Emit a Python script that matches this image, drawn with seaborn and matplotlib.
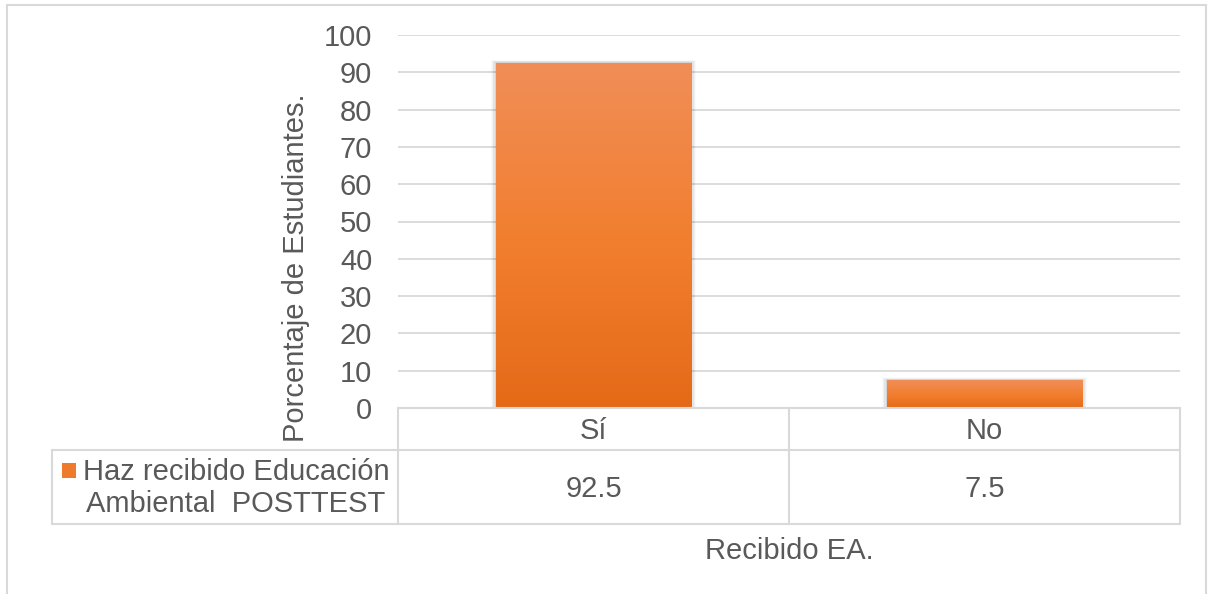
import numpy as np
import pandas as pd
import matplotlib
matplotlib.use("Agg")
import matplotlib.pyplot as plt
from matplotlib.colors import LinearSegmentedColormap
from matplotlib.patches import Rectangle
from matplotlib.lines import Line2D
import seaborn as sns

# Data
categories = ["Sí", "No"]
values = [92.5, 7.5]
series_name = "Haz recibido Educación\nAmbiental  POSTTEST"
y_ticks = [0, 10, 20, 30, 40, 50, 60, 70, 80, 90, 100]
x_title = "Recibido EA."
y_title = "Porcentaje de Estudiantes."

sns.set_theme(style="white")
plt.rcParams["font.family"] = ["Liberation Sans", "DejaVu Sans"]

TEXT = "#595959"
GRID = "#D9D9D9"
FS = 21

W, H = 1209, 594
fig = plt.figure(figsize=(W / 100, H / 100), dpi=100)

# axes box in pixels: x 398..1180, y 35..408
L, R, T, B = 398, 1180, 35, 408
ax = fig.add_axes([L / W, 1 - B / H, (R - L) / W, (B - T) / H])

df = pd.DataFrame({"cat": categories, "val": values})
sns.barplot(data=df, x="cat", y="val", ax=ax, width=0.5, color="#F07F2E",
            saturation=1, zorder=3)
ax.set_ylim(0, 100)
ax.set_xlim(-0.5, 1.5)
ax.set_yticks(y_ticks)
ax.set_yticklabels([str(t) for t in y_ticks], fontsize=FS, color=TEXT)
ax.tick_params(axis="y", length=0, pad=18.5)
ax.set_xticks([])
ax.set_xlabel("")
ax.set_ylabel("")
for s in ax.spines.values():
    s.set_visible(False)
for t in y_ticks:
    ax.axhline(t, color=GRID, lw=1.3, zorder=1)

# gradient fill and soft shadow on each bar
cmap = LinearSegmentedColormap.from_list("og", ["#E46A17", "#F27F30", "#F08E58"])
grad = np.linspace(0, 1, 256).reshape(-1, 1)
for p in list(ax.patches):
    x0, y0 = p.get_x(), p.get_y()
    w, h = p.get_width(), p.get_height()
    p.set_edgecolor("none")
    for i, a in enumerate([0.07, 0.05, 0.035, 0.02]):
        off = 0.003 * (i + 1)
        sh = Rectangle((x0 - off, y0), w + 2 * off, h + 0.2 * (i + 1),
                       facecolor="black", alpha=a, edgecolor="none", zorder=2)
        ax.add_patch(sh)
    im = ax.imshow(grad, extent=[x0, x0 + w, y0, y0 + h], origin="lower",
                   cmap=cmap, aspect="auto", zorder=4)
    im.set_clip_path(p)
ax.set_xlim(-0.5, 1.5)
ax.set_ylim(0, 100)

# data table below the plot (figure pixel coordinates)
def px(x, y):
    return x / W, 1 - y / H

def hline(x1, x2, y):
    fig.add_artist(Line2D([x1 / W, x2 / W], [1 - y / H, 1 - y / H], color=GRID, lw=1.5))

def vline(x, y1, y2):
    fig.add_artist(Line2D([x / W, x / W], [1 - y1 / H, 1 - y2 / H], color=GRID, lw=1.5))

row1_top, row2_top, row2_bot = 408, 450, 524
tbl_left, mid = 52, (L + R) / 2
hline(L, R, row1_top)
hline(tbl_left, R, row2_top)
hline(tbl_left, R, row2_bot)
vline(L, row1_top, row2_bot)
vline(mid, row1_top, row2_bot)
vline(R, row1_top, row2_bot)
vline(tbl_left, row2_top, row2_bot)

centers = [L + (R - L) * 0.25, L + (R - L) * 0.75]
for c, cat, v in zip(centers, categories, values):
    fig.text(*px(c, 431), cat, ha="center", va="center", fontsize=FS, color=TEXT)
    fig.text(*px(c, 489), f"{v}", ha="center", va="center", fontsize=FS, color=TEXT)

# legend key in table
fig.add_artist(Rectangle(px(62, 478), 14 / W, 15 / H, facecolor="#EE7A2C",
                         edgecolor="none"))
fig.text(*px(236, 488), series_name, ha="center", va="center", fontsize=FS,
         color=TEXT, linespacing=1.2, multialignment="center")

# axis titles
fig.text(*px((L + R) / 2, 551), x_title, ha="center", va="center", fontsize=FS, color=TEXT)
fig.text(*px(296, 268), y_title, ha="center", va="center", rotation=90,
         fontsize=FS, color=TEXT)

# chart frame
fig.add_artist(Rectangle(px(7, 620), 1199 / W, 615 / H, fill=False,
                         edgecolor=GRID, lw=1.5))

fig.savefig("out.png", dpi=100, facecolor="white")
